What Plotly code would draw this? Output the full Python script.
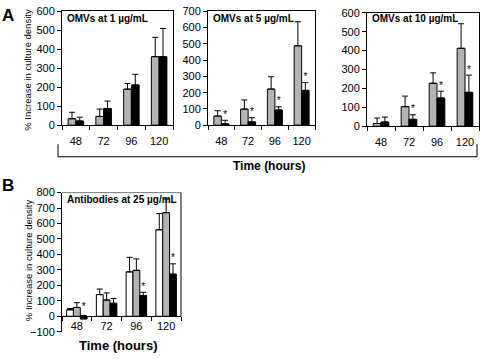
import plotly.graph_objects as go

W, H = 480, 359

categories = ["48", "72", "96", "120"]

# Panel A (OMVs): gray = control-like, black = treated
a1_gray = [34, 46, 190, 361]
a1_gray_err = [34, 39, 30, 102]
a1_black = [22, 88, 212, 361]
a1_black_err = [20, 39, 56, 149]
a1_star = [False, False, False, False]

a2_gray = [56, 99, 222, 488]
a2_gray_err = [33, 56, 76, 148]
a2_black = [8, 20, 93, 214]
a2_black_err = [22, 26, 20, 48]
a2_star = [True, True, True, True]

a3_gray = [14, 103, 227, 412]
a3_gray_err = [29, 56, 55, 130]
a3_black = [22, 36, 149, 179]
a3_black_err = [26, 24, 36, 91]
a3_star = [False, True, True, True]

# Panel B (antibodies): white, gray, black
b_white = [42, 140, 287, 559]
b_white_err = [8, 36, 94, 105]
b_gray = [57, 105, 297, 670]
b_gray_err = [31, 46, 74, 88]
b_black = [-17, 84, 134, 272]
b_black_err = [22, 31, 21, 67]
b_star = [True, False, True, True]

panel_titles = ["OMVs at 1 µg/mL", "OMVs at 5 µg/mL", "OMVs at 10 µg/mL"]
y_title = "% Increase in culture density"
x_title = "Time (hours)"

GRAY = "#b3b3b3"
FONT = "Liberation Sans, Arial, sans-serif"

def px_x(p):
    return p / W

def px_y(p):
    return 1 - p / H

xs = list(range(len(categories)))

fig = go.Figure()

def add_bars(idx, series, width, offsets, stars):
    xa = "x" if idx == 1 else f"x{idx}"
    ya = "y" if idx == 1 else f"y{idx}"
    for (vals, errs, color), off in zip(series, offsets):
        fig.add_trace(go.Bar(
            x=xs, y=vals, width=width, offset=off,
            marker=dict(color=color, line=dict(color="black", width=1)),
            error_y=dict(type="data", array=errs, arrayminus=[0] * len(errs),
                         symmetric=False, color="black", thickness=1, width=3),
            xaxis=xa, yaxis=ya, showlegend=False, hoverinfo="skip"))
    vals, errs, _ = series[-1]
    off = offsets[-1]
    sx = [x + off + width / 2 for x, s in zip(xs, stars) if s]
    sy = [max(v, 0) + e for v, e, s in zip(vals, errs, stars) if s]
    fig.add_trace(go.Scatter(
        x=sx, y=sy, mode="text", text=["*"] * len(sx), textposition="top center",
        textfont=dict(size=10, color="black", family=FONT),
        xaxis=xa, yaxis=ya, showlegend=False, hoverinfo="skip"))

wa = 0.28
add_bars(1, [(a1_gray, a1_gray_err, GRAY), (a1_black, a1_black_err, "black")], wa, [-wa, 0], a1_star)
add_bars(2, [(a2_gray, a2_gray_err, GRAY), (a2_black, a2_black_err, "black")], wa, [-wa, 0], a2_star)
add_bars(3, [(a3_gray, a3_gray_err, GRAY), (a3_black, a3_black_err, "black")], wa, [-wa, 0], a3_star)
wb = 0.23
add_bars(4, [(b_white, b_white_err, "white"), (b_gray, b_gray_err, GRAY), (b_black, b_black_err, "black")],
         wb, [-1.5 * wb, -0.5 * wb, 0.5 * wb], b_star)

tickfont = dict(size=11, color="black", family=FONT)

def xaxis_common(dom, **kw):
    d = dict(domain=dom, range=[-0.5, 3.5], tickmode="array", tickvals=xs, ticktext=categories,
             ticks="", showgrid=False, zeroline=False, showline=True, linecolor="black", linewidth=1,
             tickfont=tickfont,
             minor=dict(tickmode="array", tickvals=[-0.5, 0.5, 1.5, 2.5, 3.5], ticks="outside",
                        ticklen=4, tickcolor="black", showgrid=False))
    d.update(kw)
    return d

def yaxis_common(dom, rng, **kw):
    d = dict(domain=dom, range=rng, dtick=100, ticks="outside", ticklen=4, tickcolor="black",
             showgrid=False, zeroline=False, showline=True, linecolor="black", linewidth=1,
             tickfont=tickfont)
    d.update(kw)
    return d

ydomA = [px_y(123.3), px_y(5.5)]
ydomA3 = [px_y(124.3), px_y(7)]
ydomB = [px_y(337), px_y(193)]

fig.update_layout(
    width=W, height=H, margin=dict(l=0, r=0, t=0, b=0),
    paper_bgcolor="white", plot_bgcolor="white",
    font=dict(family=FONT, color="black"),
    xaxis=xaxis_common([px_x(62), px_x(173)], anchor="y", mirror=True, ticklabelstandoff=6),
    yaxis=yaxis_common(ydomA, [0, 600], anchor="x", mirror=True),
    xaxis2=xaxis_common([px_x(208), px_x(315)], anchor="y2", mirror=True, ticklabelstandoff=6),
    yaxis2=yaxis_common(ydomA, [0, 700], anchor="x2", mirror=True),
    xaxis3=xaxis_common([px_x(367), px_x(479)], anchor="y3", mirror=True, ticklabelstandoff=6),
    yaxis3=yaxis_common(ydomA3, [0, 600], anchor="x3", mirror=True),
    xaxis4=xaxis_common([px_x(62), px_x(181)], anchor="free",
                        position=ydomB[0] + (ydomB[1] - ydomB[0]) * 100 / 900),
    yaxis4=yaxis_common(ydomB, [-100, 800], anchor="x4"),
)

# frame for panel B (top and right edges)
fig.add_shape(type="line", xref="x4 domain", yref="y4", x0=0, x1=1, y0=800, y1=800,
              line=dict(color="black", width=1))
fig.add_shape(type="line", xref="x4 domain", yref="y4", x0=1, x1=1, y0=0, y1=800,
              line=dict(color="black", width=1))

# bracket under panel A
for x0, y0, x1, y1 in [(58, 143, 58, 156), (58, 156, 477, 156), (477, 143, 477, 156)]:
    fig.add_shape(type="line", xref="paper", yref="paper",
                  x0=px_x(x0), x1=px_x(x1), y0=px_y(y0), y1=px_y(y1),
                  line=dict(color="black", width=1))

ann = []
# panel titles
for (x, y), t in zip([(65, 13), (211, 13), (370, 13)], panel_titles):
    ann.append(dict(x=px_x(x), y=px_y(y), text=f"<b>{t}</b>", xanchor="left", yanchor="middle",
                    font=dict(size=10, family=FONT)))
ann.append(dict(x=px_x(65), y=px_y(200), text="<b>Antibodies at 25 µg/mL</b>", xanchor="left",
                yanchor="middle", font=dict(size=10, family=FONT)))
# y titles
for yc in [66, 263]:
    ann.append(dict(x=px_x(28), y=px_y(yc), text=y_title, textangle=-90, xanchor="center",
                    yanchor="middle", font=dict(size=9.5, family=FONT)))
# x titles
ann.append(dict(x=px_x(269), y=px_y(166), text=f"<b>{x_title}</b>", xanchor="center",
                yanchor="middle", font=dict(size=12, family=FONT)))
ann.append(dict(x=px_x(118), y=px_y(351), text=f"<b>{x_title}</b>", xanchor="center",
                yanchor="middle", font=dict(size=13, family=FONT)))
# panel letters
ann.append(dict(x=px_x(8), y=px_y(10), text="<b>A</b>", xanchor="center", yanchor="middle",
                font=dict(size=17, family=FONT)))
ann.append(dict(x=px_x(8), y=px_y(186), text="<b>B</b>", xanchor="center", yanchor="middle",
                font=dict(size=17, family=FONT)))
for a in ann:
    a.update(xref="paper", yref="paper", showarrow=False)
fig.update_layout(annotations=ann)

fig.write_html("out.html", config={"displayModeBar": False},
               post_script="document.body.style.margin='0px';document.body.style.overflow='hidden';")
